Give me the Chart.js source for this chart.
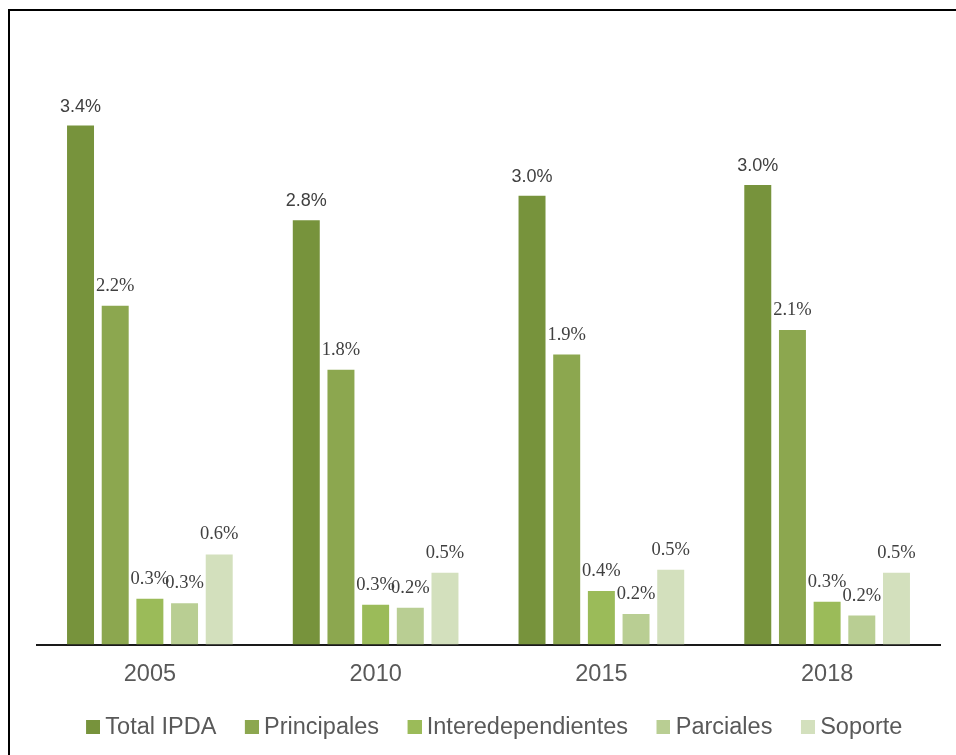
<!DOCTYPE html>
<html>
<head>
<meta charset="utf-8">
<script src="https://cdn.jsdelivr.net/npm/chart.js@4.4.1/dist/chart.umd.min.js"></script>
<style>
  html, body { margin: 0; padding: 0; background: #fff; overflow: hidden; width: 956px; height: 755px; }
  #frame { position: absolute; left: 8px; top: 9px; width: 1200px; height: 1000px; border: 2px solid #000; box-sizing: border-box; }
  #c { position: absolute; left: 0; top: 0; }
</style>
</head>
<body>
<div id="frame"></div>
<canvas id="c" width="956" height="755"></canvas>
<script>
// ---- data ----
const years = ['2005', '2010', '2015', '2018'];
const seriesNames = ['Total IPDA', 'Principales', 'Interedependientes', 'Parciales', 'Soporte'];
const totalIPDA = [3.40, 2.78, 2.94, 3.01];
const principales = [2.22, 1.80, 1.90, 2.06];
const interdependientes = [0.30, 0.26, 0.35, 0.28];
const parciales = [0.27, 0.24, 0.20, 0.19];
const soporte = [0.59, 0.47, 0.49, 0.47];
const totalLabels = ['3.4%', '2.8%', '3.0%', '3.0%'];
const principalesLabels = ['2.2%', '1.8%', '1.9%', '2.1%'];
const interdependientesLabels = ['0.3%', '0.3%', '0.4%', '0.3%'];
const parcialesLabels = ['0.3%', '0.2%', '0.2%', '0.2%'];
const soporteLabels = ['0.6%', '0.5%', '0.5%', '0.5%'];

const colors = ['#77933C', '#8CA74F', '#9BBB59', '#B9CE93', '#D3E0BD'];
const allValues = [totalIPDA, principales, interdependientes, parciales, soporte];
const allLabels = [totalLabels, principalesLabels, interdependientesLabels, parcialesLabels, soporteLabels];

// legend swatch: transparent left part, coloured square at the right end
function swatch(color) {
  const s = document.createElement('canvas');
  s.width = 38; s.height = 14;
  const g = s.getContext('2d');
  g.fillStyle = color; g.fillRect(24, 0, 14, 14);
  return s;
}

const datasets = seriesNames.map((name, i) => ({
  label: name,
  data: allValues[i],
  backgroundColor: colors[i],
  borderWidth: 0,
  categoryPercentage: 0.768,
  barPercentage: 0.778,
  pointStyle: swatch(colors[i])
}));

const barLabels = {
  id: 'barLabels',
  afterDatasetsDraw(chart) {
    const ctx = chart.ctx;
    ctx.save();
    ctx.textAlign = 'center';
    ctx.textBaseline = 'alphabetic';
    chart.data.datasets.forEach((ds, i) => {
      const meta = chart.getDatasetMeta(i);
      if (meta.hidden) return;
      if (i === 0) {
        ctx.font = '18px "Liberation Sans", Arial, sans-serif';
      } else {
        ctx.font = '18.5px "Liberation Serif", serif';
      }
      ctx.fillStyle = '#404040';
      meta.data.forEach((bar, j) => {
        ctx.fillText(allLabels[i][j], bar.x, bar.y - (i === 0 ? 14 : 15));
      });
    });
    ctx.restore();
  }
};

const shiftLegend = {
  id: 'shiftLegend',
  afterLayout(chart) {
    if (chart.legend) { chart.legend.left -= 3; chart.legend.right -= 3; }
  }
};

new Chart(document.getElementById('c'), {
  type: 'bar',
  data: { labels: years, datasets },
  options: {
    responsive: false,
    animation: false,
    devicePixelRatio: 1,
    layout: { padding: { top: 34, left: 37, right: 16, bottom: 6 } },
    scales: {
      x: {
        grid: { display: false, drawTicks: false },
        border: { display: true, color: '#1a1a1a', width: 2 },
        ticks: { color: '#595959', font: { family: '"Liberation Sans", Arial, sans-serif', size: 23.5 }, padding: 16 },
        afterFit(scale) { scale.height = 60; }
      },
      y: { display: false, min: 0, max: 4 }
    },
    plugins: {
      legend: {
        position: 'bottom',
        labels: {
          usePointStyle: true,
          pointStyleWidth: 25,
          boxHeight: 14,
          padding: 11,
          color: '#595959',
          font: { family: '"Liberation Sans", Arial, sans-serif', size: 23.5 },
          generateLabels(chart) {
            const items = Chart.defaults.plugins.legend.labels.generateLabels(chart);
            items.forEach((it) => { it.pointStyle = chart.data.datasets[it.datasetIndex].pointStyle; });
            return items;
          }
        }
      },
      tooltip: { enabled: false }
    }
  },
  plugins: [barLabels, shiftLegend]
});
</script>
</body>
</html>
